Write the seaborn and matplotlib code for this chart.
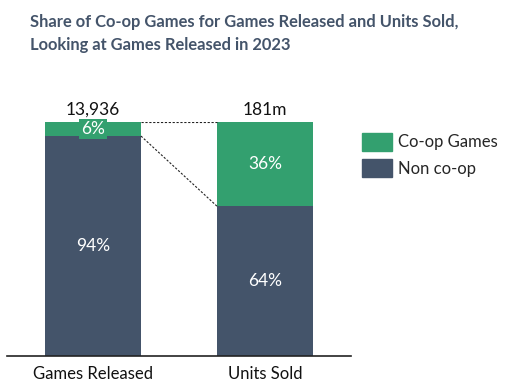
import matplotlib
matplotlib.use("Agg")
import matplotlib.pyplot as plt
from matplotlib.patches import Patch
import seaborn as sns
import pandas as pd

# data
categories = ["Games Released", "Units Sold"]
coop_pct = [6, 36]
noncoop_pct = [94, 64]
totals = ["13,936", "181m"]

green = "#33A06F"
navy = "#44546A"

sns.set_style("white")
plt.rcParams["font.family"] = ["Lato", "DejaVu Sans"]

df = pd.DataFrame({"cat": categories, "coop": coop_pct, "non": noncoop_pct})
df["total"] = df["coop"] + df["non"]

fig = plt.figure(figsize=(5.09, 3.91), dpi=100)
ax = fig.add_axes([7 / 509, 35 / 391, 344 / 509, 234 / 391])

bw = 0.558
sns.barplot(data=df, x="cat", y="total", color=green, width=bw, ax=ax,
            saturation=1, edgecolor="none")
sns.barplot(data=df, x="cat", y="non", color=navy, width=bw, ax=ax,
            saturation=1, edgecolor="none")

ax.set_xlim(-0.5, 1.5)
ax.set_ylim(0, 100)
ax.set_xlabel("")
ax.set_ylabel("")
ax.set_yticks([])
ax.tick_params(axis="x", length=0, pad=7, labelsize=12, labelcolor="#111111")
for s in ["top", "right", "left"]:
    ax.spines[s].set_visible(False)
ax.spines["bottom"].set_color("#222222")
ax.spines["bottom"].set_linewidth(1.2)

# segment labels
for i in range(len(categories)):
    ax.text(i, noncoop_pct[i] / 2, f"{noncoop_pct[i]}%", ha="center", va="center",
            color="white", fontsize=12.5)
    box = dict(facecolor=green, edgecolor="none", pad=1.5) if coop_pct[i] < 10 else None
    ax.text(i, noncoop_pct[i] + coop_pct[i] / 2, f"{coop_pct[i]}%", ha="center",
            va="center", color="white", fontsize=12.5, clip_on=False, bbox=box)
    ax.text(i, 101.8, totals[i], ha="center", va="bottom", color="#111111",
            fontsize=12.5, clip_on=False)

# connector lines
x0 = 0 + bw / 2
x1 = 1 - bw / 2
ax.plot([x0, x1], [100, 100], ls=(0, (2, 1.5)), color="#222222", lw=0.8)
ax.plot([x0, x1], [noncoop_pct[0], noncoop_pct[1]], ls=(0, (2, 1.5)),
        color="#222222", lw=0.8)

# title
fig.text(30 / 509, 1 - 22 / 391, "Share of Co-op Games for Games Released and Units Sold,",
         fontsize=11.9, fontweight="bold", color=navy, va="center", ha="left")
fig.text(30 / 509, 1 - 45 / 391, "Looking at Games Released in 2023",
         fontsize=11.9, fontweight="bold", color=navy, va="center", ha="left")

handles = [Patch(color=green, label="Co-op Games"), Patch(color=navy, label="Non co-op")]
fig.legend(handles=handles, loc="upper left", bbox_to_anchor=(355 / 509, 1 - 126 / 391),
           frameon=False, fontsize=12, handlelength=1.8, handleheight=1.3,
           handletextpad=0.4, labelspacing=0.5, borderaxespad=0)

fig.savefig("out.png", dpi=100)
